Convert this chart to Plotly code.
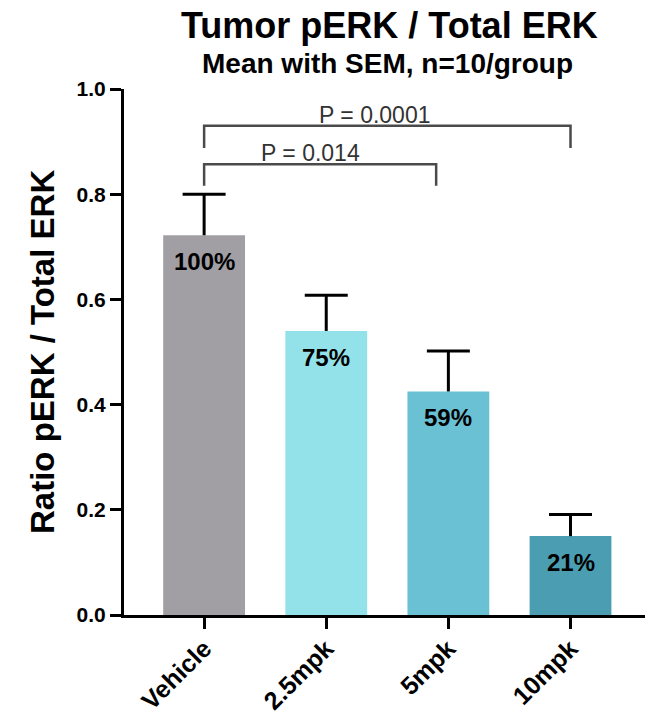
import plotly.graph_objects as go

# Group data
groups = ["Vehicle", "2.5mpk", "5mpk", "10mpk"]
means = [0.722, 0.540, 0.425, 0.150]
sem = [0.078, 0.068, 0.077, 0.041]
pct_labels = ["100%", "75%", "59%", "21%"]
bar_colors = ["#a19fa4", "#94e2e9", "#6ac1d3", "#4b9eb1"]

# Pairwise comparisons: (left group, right end, bracket top, leg bottom, label, label x)
comparisons = [
    (0, 1.9, 0.857, 0.816, "P = 0.014", 0.87),
    (0, 3.0, 0.930, 0.888, "P = 0.0001", 1.40),
]

FONT = "Liberation Sans, Arial, Helvetica, sans-serif"
W, H = 657, 721
ML, MR, MT, MB = 124, 12, 89, 106
plot_w = W - ML - MR
plot_h = H - MT - MB

x_idx = list(range(len(groups)))

fig = go.Figure()
fig.add_trace(go.Bar(
    x=x_idx,
    y=means,
    width=0.67,
    marker=dict(color=bar_colors, line=dict(width=0)),
    hoverinfo="skip",
))

# Upper-only SEM whiskers: stem from the mean up, with a cap at mean + SEM
cap = 0.176
ex, ey = [], []
for i, (m, s) in enumerate(zip(means, sem)):
    ex += [i, i, None, i - cap, i + cap, None]
    ey += [m, m + s, None, m + s, m + s, None]
fig.add_trace(go.Scatter(
    x=ex, y=ey, mode="lines",
    line=dict(color="black", width=3),
    hoverinfo="skip",
))

annotations = []
# Percent labels inside each bar, near the top
for i, (m, t) in enumerate(zip(means, pct_labels)):
    annotations.append(dict(
        x=i, y=m, xref="x", yref="y", text=f"<b>{t}</b>", showarrow=False,
        yanchor="top", yshift=-11,
        font=dict(family=FONT, size=24, color="black"),
    ))

shapes = []
for left, right, ytop, yleg, label, lx in comparisons:
    shapes.append(dict(
        type="path", xref="x", yref="y",
        path=f"M {left},{yleg} L {left},{ytop} L {right},{ytop} L {right},{yleg}",
        line=dict(color="#4a4a4a", width=2.5),
    ))
    annotations.append(dict(
        x=lx, y=ytop, xref="x", yref="y", text=label, showarrow=False,
        yanchor="bottom", yshift=-4,
        font=dict(family=FONT, size=23, color="#333333"),
    ))


def top_px_to_paper(px):
    return 1 + (MT - px) / plot_h


def left_px_to_paper(px):
    return (px - ML) / plot_w


# Titles
annotations.append(dict(
    x=left_px_to_paper(389), y=top_px_to_paper(25), xref="paper", yref="paper",
    text="<b>Tumor pERK / Total ERK</b>", showarrow=False,
    xanchor="center", yanchor="middle",
    font=dict(family=FONT, size=36, color="black"),
))
annotations.append(dict(
    x=left_px_to_paper(387), y=top_px_to_paper(64), xref="paper", yref="paper",
    text="<b>Mean with SEM, n=10/group</b>", showarrow=False,
    xanchor="center", yanchor="middle",
    font=dict(family=FONT, size=28, color="black"),
))
# Y-axis title
annotations.append(dict(
    x=left_px_to_paper(42), y=0.5, xref="paper", yref="paper",
    text="<b>Ratio pERK / Total ERK</b>", showarrow=False, textangle=-90,
    xanchor="center", yanchor="middle",
    font=dict(family=FONT, size=33, color="black"),
))

fig.update_layout(
    width=W, height=H,
    margin=dict(l=ML, r=MR, t=MT, b=MB, autoexpand=False),
    paper_bgcolor="white", plot_bgcolor="white",
    showlegend=False,
    shapes=shapes,
    annotations=annotations,
    font=dict(family=FONT, color="black"),
)

fig.update_xaxes(
    range=[-0.656, 3.61],
    automargin=False,
    tickmode="array", tickvals=x_idx, ticktext=[f"<b>{g}</b>" for g in groups],
    tickangle=-45,
    ticks="outside", ticklen=11, tickwidth=3, tickcolor="black",
    ticklabelstandoff=-5,
    showline=True, linecolor="black", linewidth=3,
    showgrid=False, zeroline=False,
    tickfont=dict(family=FONT, size=25, color="black"),
)
fig.update_yaxes(
    range=[0, 1.0],
    automargin=False,
    tickmode="array", tickvals=[0, 0.2, 0.4, 0.6, 0.8, 1.0],
    ticktext=["<b>0.0</b>", "<b>0.2</b>", "<b>0.4</b>", "<b>0.6</b>",
              "<b>0.8</b>", "<b>1.0</b>"],
    ticks="outside", ticklen=11, tickwidth=3, tickcolor="black",
    showline=True, linecolor="black", linewidth=3,
    showgrid=False, zeroline=False,
    tickfont=dict(family=FONT, size=21, color="black"),
)

fig.write_html("out.html")
